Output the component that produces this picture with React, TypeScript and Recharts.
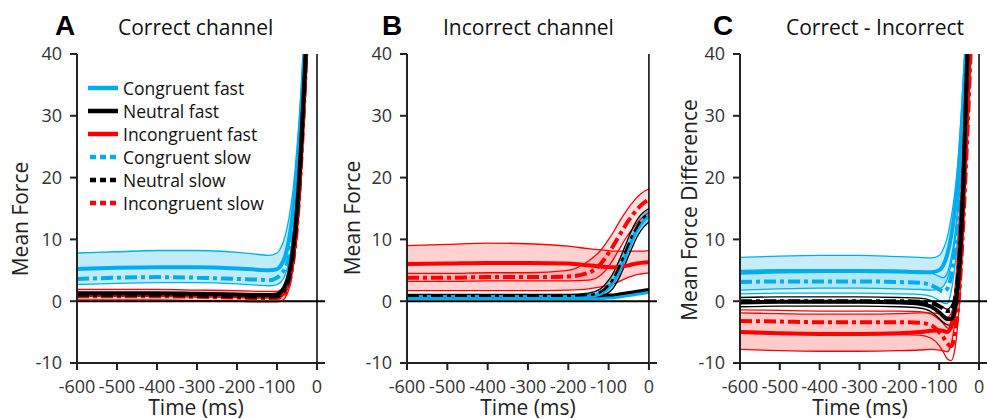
import React from "react";
import { Area, ComposedChart, Legend, Line, ReferenceLine, XAxis, YAxis } from "recharts";

const FONT = "'Open Sans', sans-serif";
const BLUE = "#00aeef";
const RED = "#ff0000";
const BLACK = "#000000";
const DASH = "12 4 4 4";

const times = [-600, -500, -400, -300, -200, -150, -120, -100, -90, -80, -70, -60, -50, -40, -30, -20, 0];
const xTicks = [-600, -500, -400, -300, -200, -100, 0];
const yTicks = [-10, 0, 10, 20, 30, 40];

// panel A: correct channel
const aCongFast = [5.2, 5.4, 5.5, 5.5, 5.3, 5.1, 5.0, 5.2, 5.8, 7.2, 10, 14.5, 21, 30, 42, 56, 85];
const aCongFastHi = [7.8, 8.0, 8.2, 8.2, 7.9, 7.6, 7.4, 7.8, 8.7, 10.5, 13.5, 18, 25, 34, 46, 60, 88];
const aCongFastLo = [2.7, 2.9, 3.0, 3.0, 2.8, 2.6, 2.5, 2.7, 3.1, 4.2, 6.5, 10.5, 16.5, 26, 38, 52, 82];
const aCongSlow = [3.6, 3.8, 3.9, 3.8, 3.6, 3.5, 3.4, 3.8, 4.4, 5.3, 7.2, 11, 17, 26, 39, 54, 84];
const aNeutFast = [1.3, 1.3, 1.3, 1.2, 1.1, 1.0, 1.0, 1.1, 1.5, 2.5, 4.5, 8.5, 15, 25, 38, 54, 84];
const aNeutSlow = [1.0, 1.0, 1.0, 0.9, 0.8, 0.7, 0.7, 0.8, 1.1, 2.0, 3.8, 7.5, 14, 24, 37, 53, 83];
const aIncFast = [1.0, 1.0, 1.0, 0.9, 0.8, 0.7, 0.7, 0.7, 0.9, 1.6, 3.3, 7, 13, 23, 36, 52, 82];
const aIncFastHi = [1.9, 1.9, 1.9, 1.8, 1.7, 1.6, 1.6, 1.6, 1.9, 2.8, 4.8, 8.5, 14.5, 24.5, 37, 53, 83];
const aIncFastLo = [0.2, 0.2, 0.2, 0.1, 0.0, -0.1, -0.1, -0.1, 0.0, 0.5, 2.0, 5.5, 11.5, 21.5, 34.5, 50.5, 80.5];
const aIncSlow = [0.8, 0.8, 0.8, 0.7, 0.6, 0.5, 0.5, 0.5, 0.7, 1.3, 2.8, 6.2, 12, 22, 35, 51, 81];

// panel B: incorrect channel
const bCongFast = [0.5, 0.5, 0.5, 0.5, 0.5, 0.5, 0.5, 0.6, 0.6, 0.7, 0.8, 0.9, 1.0, 1.1, 1.2, 1.3, 1.5];
const bNeutFast = [0.9, 0.9, 0.9, 0.9, 0.9, 0.9, 0.9, 1.0, 1.0, 1.1, 1.2, 1.3, 1.4, 1.5, 1.6, 1.7, 1.9];
const bIncFast = [6.0, 6.1, 6.2, 6.2, 6.1, 5.8, 5.6, 5.5, 5.5, 5.5, 5.6, 5.7, 5.8, 6.0, 6.1, 6.2, 6.3];
const bIncFastHi = [9.0, 9.2, 9.4, 9.3, 8.9, 8.5, 8.3, 8.2, 8.1, 8.1, 8.1, 8.1, 8.1, 8.1, 8.1, 8.1, 8.2];
const bIncFastLo = [1.7, 1.7, 1.7, 1.7, 1.8, 2.0, 2.3, 2.6, 2.8, 3.0, 3.3, 3.6, 3.9, 4.1, 4.3, 4.4, 4.6];
const bIncSlow = [3.8, 3.8, 3.9, 3.9, 4.0, 4.6, 6.0, 7.8, 8.8, 9.9, 11.0, 12.1, 13.1, 14.0, 14.8, 15.5, 16.5];
const bIncSlowHi = [4.5, 4.5, 4.6, 4.6, 5.0, 6.5, 8.2, 10.0, 11.0, 12.1, 13.2, 14.2, 15.2, 16.0, 16.8, 17.4, 18.2];
const bIncSlowLo = [3.2, 3.2, 3.3, 3.3, 3.3, 3.4, 4.2, 5.6, 6.6, 7.7, 8.8, 9.9, 10.9, 11.8, 12.6, 13.3, 14.4];
const bCongSlow = [0.7, 0.7, 0.7, 0.7, 0.7, 0.8, 1.2, 2.2, 3.0, 4.1, 5.5, 7.1, 8.7, 10.2, 11.5, 12.5, 13.8];
const bNeutSlow = [0.9, 0.9, 0.9, 0.9, 0.9, 1.0, 1.5, 2.6, 3.5, 4.7, 6.1, 7.7, 9.3, 10.8, 12.0, 13.0, 14.3];
const bSlowHi = [1.1, 1.1, 1.1, 1.1, 1.1, 1.3, 2.0, 3.4, 4.4, 5.7, 7.2, 8.8, 10.4, 11.9, 13.1, 14.0, 15.0];
const bSlowLo = [0.5, 0.5, 0.5, 0.5, 0.5, 0.5, 0.7, 1.4, 2.0, 3.0, 4.3, 5.8, 7.4, 8.9, 10.3, 11.4, 12.8];

// panel C: correct - incorrect
const cCongFast = [4.6, 4.8, 4.9, 4.9, 4.8, 4.7, 4.7, 5.0, 5.8, 7.5, 10.5, 15, 22, 32, 44, 58, 85];
const cCongFastHi = [7.1, 7.3, 7.4, 7.4, 7.2, 7.1, 7.0, 7.4, 8.4, 10.3, 13.5, 18, 25, 35, 47, 60, 88];
const cCongFastLo = [1.8, 2.0, 2.1, 2.1, 2.0, 1.9, 1.8, 2.0, 2.4, 3.5, 6.0, 10, 17, 27, 39, 53, 82];
const cCongSlow = [3.1, 3.2, 3.2, 3.2, 3.1, 3.0, 2.6, 1.9, 1.6, 2.0, 4.0, 8.5, 15, 25, 38, 53, 82];
const cCongSlowHi = [5.0, 5.1, 5.1, 5.1, 5.0, 4.9, 4.6, 4.0, 3.8, 4.5, 7, 11, 17, 27, 40, 55, 84];
const cCongSlowLo = [1.2, 1.3, 1.3, 1.3, 1.2, 1.1, 0.8, 0.1, -0.3, -0.4, 1.5, 6, 13, 23, 36, 51, 80];
const cNeutFast = [-0.2, -0.1, -0.1, -0.1, -0.2, -0.4, -0.9, -1.8, -2.4, -2.9, -2.9, -1.0, 5, 18, 39, 56, 85];
const cNeutFastHi = [0.6, 0.7, 0.7, 0.7, 0.6, 0.5, 0.1, -0.6, -1.0, -1.3, -0.8, 1.5, 8, 21, 41, 58, 86];
const cNeutFastLo = [-0.9, -0.8, -0.8, -0.8, -0.9, -1.1, -1.7, -2.8, -3.4, -3.8, -3.9, -2.5, 3, 15, 36, 53, 83];
const cNeutSlow = [0.0, 0.0, 0.0, 0.0, 0.0, -0.1, -0.3, -0.8, -1.2, -1.6, -1.5, 0.5, 6, 18, 38, 55, 85];
const cIncFast = [-5.0, -5.2, -5.3, -5.3, -5.2, -5.0, -4.8, -4.7, -4.8, -5.0, -4.0, 0, 8, 20, 33, 48, 80];
const cIncFastHi = [-1.9, -2.0, -2.1, -2.1, -2.0, -1.9, -1.9, -2.0, -2.3, -2.6, -2.0, 1.5, 9, 21, 34, 49, 81];
const cIncFastLo = [-7.8, -8.0, -8.1, -8.1, -8.0, -7.9, -7.8, -7.9, -8.0, -8.2, -7.0, -3, 5, 17, 31, 46, 78];
const cIncSlow = [-3.2, -3.3, -3.4, -3.4, -3.4, -3.5, -3.9, -5.0, -5.8, -6.8, -7.3, -5, 1, 12, 26, 42, 75];
const cIncSlowHi = [-1.4, -1.5, -1.6, -1.6, -1.6, -1.7, -2.1, -3.0, -3.6, -4.3, -4.6, -2.5, 3, 14, 28, 44, 77];
const cIncSlowLo = [-5.2, -5.3, -5.4, -5.4, -5.4, -5.5, -6.0, -7.2, -8.2, -9.3, -9.6, -7.5, -1, 10, 24, 40, 72];

const legendItems = [
  { label: "Congruent fast", color: BLUE, dashed: false },
  { label: "Neutral fast", color: BLACK, dashed: false },
  { label: "Incongruent fast", color: RED, dashed: false },
  { label: "Congruent slow", color: BLUE, dashed: true },
  { label: "Neutral slow", color: BLACK, dashed: true },
  { label: "Incongruent slow", color: RED, dashed: true },
];

type Band = { key: string; lo: number[]; hi: number[]; fill?: string; opacity?: number; edge?: string };
type Trace = { key: string; values: number[]; color: string; width: number; dashed?: boolean };

type PanelDef = {
  letter: string;
  title: string;
  yLabel: string;
  left: number;
  width: number;
  plotLeft: number;
  plotRight: number;
  yLabelX: number;
  yLabelY: number;
  xLabelX: number;
  letterX: number;
  titleX: number;
  bands: Band[];
  traces: Trace[];
  legend?: boolean;
};

const panels: PanelDef[] = [
  {
    letter: "A",
    title: "Correct channel",
    yLabel: "Mean Force",
    left: 0,
    width: 330,
    plotLeft: 77,
    plotRight: 325,
    yLabelX: 28,
    yLabelY: 219,
    xLabelX: 196,
    letterX: 55,
    titleX: 118,
    legend: true,
    bands: [
      { key: "acf", lo: aCongFastLo, hi: aCongFastHi, fill: BLUE, opacity: 0.25, edge: BLUE },
      { key: "aif", lo: aIncFastLo, hi: aIncFastHi, fill: RED, opacity: 0.2, edge: RED },
    ],
    traces: [
      { key: "aCongFast", values: aCongFast, color: BLUE, width: 4 },
      { key: "aCongSlow", values: aCongSlow, color: BLUE, width: 4, dashed: true },
      { key: "aIncFast", values: aIncFast, color: RED, width: 4 },
      { key: "aIncSlow", values: aIncSlow, color: RED, width: 4, dashed: true },
      { key: "aNeutSlow", values: aNeutSlow, color: BLACK, width: 4, dashed: true },
      { key: "aNeutFast", values: aNeutFast, color: BLACK, width: 4 },
    ],
  },
  {
    letter: "B",
    title: "Incorrect channel",
    yLabel: "Mean Force",
    left: 330,
    width: 330,
    plotLeft: 77,
    plotRight: 327,
    yLabelX: 30,
    yLabelY: 218,
    xLabelX: 198,
    letterX: 52,
    titleX: 113,
    bands: [
      { key: "bif", lo: bIncFastLo, hi: bIncFastHi, fill: RED, opacity: 0.18, edge: RED },
      { key: "bis", lo: bIncSlowLo, hi: bIncSlowHi, fill: RED, opacity: 0.12, edge: RED },
      { key: "bsl", lo: bSlowLo, hi: bSlowHi, fill: BLUE, opacity: 0.55, edge: BLACK },
    ],
    traces: [
      { key: "bIncFast", values: bIncFast, color: RED, width: 4 },
      { key: "bIncSlow", values: bIncSlow, color: RED, width: 4, dashed: true },
      { key: "bCongFast", values: bCongFast, color: BLUE, width: 4 },
      { key: "bNeutFast", values: bNeutFast, color: BLACK, width: 3 },
      { key: "bCongSlow", values: bCongSlow, color: BLUE, width: 3.5 },
      { key: "bNeutSlow", values: bNeutSlow, color: BLACK, width: 2.5, dashed: true },
    ],
  },
  {
    letter: "C",
    title: "Correct - Incorrect",
    yLabel: "Mean Force Difference",
    left: 660,
    width: 327,
    plotLeft: 80,
    plotRight: 327,
    yLabelX: 37,
    yLabelY: 210,
    xLabelX: 200,
    letterX: 53,
    titleX: 126,
    bands: [
      { key: "ccf", lo: cCongFastLo, hi: cCongFastHi, fill: BLUE, opacity: 0.22, edge: BLUE },
      { key: "ccs", lo: cCongSlowLo, hi: cCongSlowHi, fill: BLUE, opacity: 0.1, edge: BLUE },
      { key: "cif", lo: cIncFastLo, hi: cIncFastHi, fill: RED, opacity: 0.2, edge: RED },
      { key: "cis", lo: cIncSlowLo, hi: cIncSlowHi, edge: RED },
      { key: "cnf", lo: cNeutFastLo, hi: cNeutFastHi, edge: BLACK },
    ],
    traces: [
      { key: "cCongFast", values: cCongFast, color: BLUE, width: 4 },
      { key: "cCongSlow", values: cCongSlow, color: BLUE, width: 4, dashed: true },
      { key: "cIncFast", values: cIncFast, color: RED, width: 4 },
      { key: "cIncSlow", values: cIncSlow, color: RED, width: 4, dashed: true },
      { key: "cNeutSlow", values: cNeutSlow, color: BLACK, width: 4, dashed: true },
      { key: "cNeutFast", values: cNeutFast, color: BLACK, width: 4 },
    ],
  },
];

function buildRows(bands: Band[], traces: Trace[]) {
  return times.map((t, i) => {
    const row: Record<string, unknown> = { t };
    for (const b of bands) {
      row[b.key] = [b.lo[i], b.hi[i]];
      row[b.key + "Lo"] = b.lo[i];
      row[b.key + "Hi"] = b.hi[i];
    }
    for (const s of traces) row[s.key] = s.values[i];
    return row;
  });
}

function AxisTitle({ px, py, text, vertical }: { px: number; py: number; text: string; vertical?: boolean }) {
  return (
    <text
      x={px}
      y={py}
      textAnchor="middle"
      transform={vertical ? `rotate(-90 ${px} ${py})` : undefined}
      fontFamily={FONT}
      fontSize={21}
      fill="#222"
    >
      {text}
    </text>
  );
}

function LegendBox() {
  return (
    <div style={{ fontFamily: FONT, fontSize: 17.5, color: "#111" }}>
      {legendItems.map((item) => (
        <div key={item.label} style={{ display: "flex", alignItems: "center", height: 23, whiteSpace: "nowrap" }}>
          <svg width={35} height={10}>
            <line
              x1={item.dashed ? 2 : 0}
              x2={30}
              y1={5}
              y2={5}
              stroke={item.color}
              strokeWidth={4.5}
              strokeDasharray={item.dashed ? "6 4" : undefined}
            />
          </svg>
          <span>{item.label}</span>
        </div>
      ))}
    </div>
  );
}

function Panel({ p }: { p: PanelDef }) {
  const rows = buildRows(p.bands, p.traces);
  const axisStyle = { stroke: "#222", strokeWidth: 2 };
  return (
    <div style={{ position: "absolute", left: p.left, top: 0 }}>
      <ComposedChart
        width={p.width}
        height={419}
        data={rows}
        margin={{ top: 54, right: p.width - p.plotRight, bottom: 0, left: 0 }}
      >
        <XAxis
          dataKey="t"
          type="number"
          domain={[-600, 20]}
          ticks={xTicks}
          interval={0}
          height={56}
          tickSize={7}
          tickMargin={10}
          axisLine={axisStyle}
          tickLine={axisStyle}
          tick={{ fill: "#333", fontSize: 18, fontFamily: FONT }}
          label={<AxisTitle px={p.xLabelX} py={415} text="Time (ms)" />}
        />
        <YAxis
          type="number"
          domain={[-10, 40]}
          ticks={yTicks}
          interval={0}
          allowDataOverflow
          width={p.plotLeft}
          tickSize={7}
          tickMargin={8}
          axisLine={axisStyle}
          tickLine={axisStyle}
          tick={{ fill: "#333", fontSize: 18, fontFamily: FONT }}
          label={<AxisTitle px={p.yLabelX} py={p.yLabelY} text={p.yLabel} vertical />}
        />
        {p.bands
          .filter((b) => b.fill)
          .map((b) => (
            <Area
              key={b.key}
              dataKey={b.key}
              type="monotone"
              stroke="none"
              fill={b.fill}
              fillOpacity={b.opacity}
              isAnimationActive={false}
              activeDot={false}
              legendType="none"
            />
          ))}
        {p.bands.flatMap((b) =>
          ["Lo", "Hi"].map((s) => (
            <Line
              key={b.key + s}
              dataKey={b.key + s}
              type="monotone"
              stroke={b.edge}
              strokeWidth={1.3}
              dot={false}
              activeDot={false}
              isAnimationActive={false}
              legendType="none"
            />
          ))
        )}
        {p.traces.map((s) => (
          <Line
            key={s.key}
            dataKey={s.key}
            type="monotone"
            stroke={s.color}
            strokeWidth={s.width}
            strokeDasharray={s.dashed ? DASH : undefined}
            dot={false}
            activeDot={false}
            isAnimationActive={false}
          />
        ))}
        <ReferenceLine y={0} stroke="#000" strokeWidth={2} />
        <ReferenceLine x={0} stroke="#000" strokeWidth={1.5} />
        {p.legend && (
          <Legend
            layout="vertical"
            align="center"
            verticalAlign="middle"
            wrapperStyle={{ left: 88, top: 76, width: 240 }}
            content={() => <LegendBox />}
          />
        )}
      </ComposedChart>
    </div>
  );
}

export default function App() {
  return (
    <div
      style={{
        position: "absolute",
        left: 0,
        top: 0,
        width: 987,
        height: 419,
        overflow: "hidden",
        background: "#fff",
      }}
    >
      {panels.map((p) => (
        <Panel key={p.letter} p={p} />
      ))}
      <svg width={987} height={419} style={{ position: "absolute", left: 0, top: 0, pointerEvents: "none" }}>
        {panels.map((p) => (
          <g key={p.letter}>
            <text x={p.left + p.letterX} y={35} fontFamily="'Liberation Sans', Arial, sans-serif" fontWeight="bold" fontSize={28} fill="#000">
              {p.letter}
            </text>
            <text x={p.left + p.titleX} y={35} fontFamily={FONT} fontSize={21} fill="#111">
              {p.title}
            </text>
          </g>
        ))}
      </svg>
    </div>
  );
}
